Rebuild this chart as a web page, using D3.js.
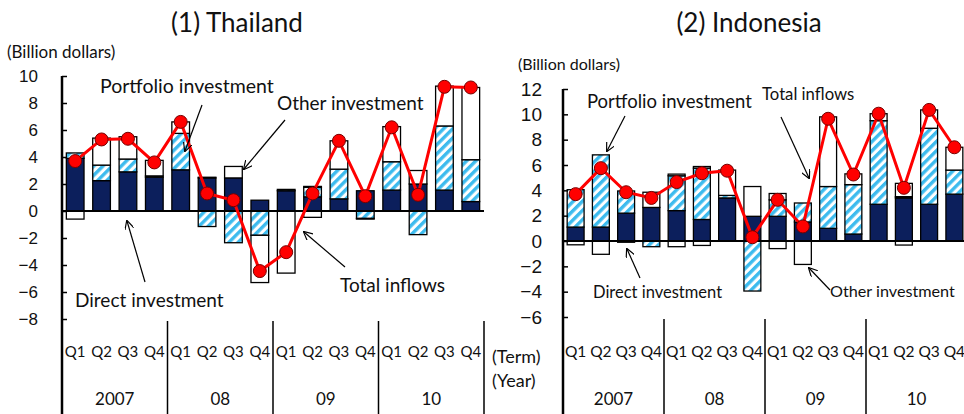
<!DOCTYPE html>
<html>
<head>
<meta charset="utf-8">
<script src="https://cdn.jsdelivr.net/npm/d3@7"></script>
<style>
  body { margin: 0; background: #fff; }
  svg { font-family: Lato, 'Open Sans', sans-serif; }
</style>
</head>
<body>
<svg></svg>
<script>
const w = 964;
const h = 414;
const svg = d3.select('svg').attr('width', w).attr('height', h);

// data (billion dollars, quarterly 2007-2010)
const quarters = ['Q1', 'Q2', 'Q3', 'Q4', 'Q1', 'Q2', 'Q3', 'Q4', 'Q1', 'Q2', 'Q3', 'Q4', 'Q1', 'Q2', 'Q3', 'Q4'];
const years = ['2007', '08', '09', '10'];

const thDirect = [3.9, 2.25, 2.9, 2.5, 3.05, 2.45, 2.45, 0.8, 1.5, 1.05, 0.9, 1.5, 1.55, 2.0, 1.55, 0.7];
const thPortfolio = [0.4, 1.15, 0.95, 0.1, 2.7, -1.15, -2.35, -1.8, 0.1, 0.7, 2.2, -0.55, 2.1, -1.75, 4.75, 3.1];
const thOther = [-0.6, 2.0, 1.65, 1.15, 0.85, 0.05, 0.85, -3.5, -4.6, -0.47, 2.1, -0.05, 2.6, 1.0, 2.95, 5.35];
const thOther2 = [0, 0, 0, 0, 0, 0, 0, 0, 0, 0.07, 0, 0, 0, 0, 0, 0];
const thTotal = [3.7, 5.3, 5.35, 3.6, 6.6, 1.3, 0.8, -4.45, -3.05, 1.3, 5.2, 1.1, 6.2, 1.2, 9.2, 9.15];

const idDirect = [1.1, 1.1, 2.2, 2.65, 2.4, 1.7, 3.4, 1.95, 1.95, 1.5, 1.0, 0.55, 2.9, 3.4, 2.9, 3.7];
const idPortfolio = [2.95, 5.7, 1.75, -0.45, 2.75, 4.05, 0.2, -3.95, 1.3, 1.5, 3.3, 3.9, 6.6, 0.1, 6.0, 1.9];
const idOther = [-0.3, -1.05, -0.1, 1.2, -0.45, -0.35, 2.0, 2.35, -0.6, -1.85, 5.5, 0.85, 0.55, 1.05, 1.45, 1.8];
const idOther2 = [0, 0, 0, 0, 0.13, 0.13, 0, 0, 0.5, 0, 0, 0, 0, -0.32, 0, 0];
const idTotal = [3.7, 5.75, 3.85, 3.4, 4.65, 5.35, 5.55, 0.3, 3.25, 1.15, 9.65, 5.25, 10.05, 4.2, 10.35, 7.4];

const navy = '#0c1f5c';
const blue = '#3dbbee';
const keys = ['direct', 'portfolio', 'other', 'other2'];
const fills = { direct: navy, portfolio: 'url(#hatch)', other: '#fff', other2: '#fff' };

const defs = svg.append('defs');
const pat = defs
  .append('pattern')
  .attr('id', 'hatch')
  .attr('patternUnits', 'userSpaceOnUse')
  .attr('width', 6.5)
  .attr('height', 6.5)
  .attr('patternTransform', 'rotate(45)');
pat.append('rect').attr('width', 6.5).attr('height', 6.5).attr('fill', '#fff');
pat.append('rect').attr('width', 3.4).attr('height', 6.5).attr('fill', blue);

defs
  .append('marker')
  .attr('id', 'arrow')
  .attr('viewBox', '0 0 10 10')
  .attr('refX', 9)
  .attr('refY', 5)
  .attr('markerWidth', 9)
  .attr('markerHeight', 9)
  .attr('markerUnits', 'userSpaceOnUse')
  .attr('orient', 'auto')
  .append('path')
  .attr('d', 'M0,0 L10,5 L0,10')
  .attr('fill', 'none')
  .attr('stroke', '#000')
  .attr('stroke-width', 1.3);

function drawPanel(p) {
  const g = svg.append('g');
  const x = d3
    .scaleBand()
    .domain(d3.range(quarters.length))
    .range([p.left, p.right])
    .paddingInner(0.33)
    .paddingOuter(0.165);
  const y = d3.scaleLinear().domain(p.domain).range([p.bottom, p.top]);

  const rows = quarters.map((q, i) => ({
    direct: p.direct[i],
    portfolio: p.portfolio[i],
    other: p.other[i],
    other2: p.other2[i],
  }));
  const series = d3.stack().keys(keys).offset(d3.stackOffsetDiverging)(rows);

  series.forEach((s) => {
    g.append('g')
      .selectAll('rect')
      .data(s.map((d, i) => ({ d, i })).filter((e) => e.d[1] !== e.d[0]))
      .enter()
      .append('rect')
      .attr('x', (e) => x(e.i))
      .attr('y', (e) => y(Math.max(e.d[0], e.d[1])))
      .attr('width', x.bandwidth())
      .attr('height', (e) => Math.abs(y(e.d[0]) - y(e.d[1])))
      .attr('fill', fills[s.key])
      .attr('stroke', '#000')
      .attr('stroke-width', 1.3);
  });

  // zero line
  g.append('line')
    .attr('x1', p.left)
    .attr('x2', p.right)
    .attr('y1', y(0))
    .attr('y2', y(0))
    .attr('stroke', '#000')
    .attr('stroke-width', 2);

  // total inflows
  const cx = (i) => x(i) + x.bandwidth() / 2;
  g.append('path')
    .datum(p.total)
    .attr('fill', 'none')
    .attr('stroke', '#f00')
    .attr('stroke-width', 3)
    .attr('d', d3.line().x((d, i) => cx(i)).y((d) => y(d)));
  g.append('g')
    .selectAll('circle')
    .data(p.total)
    .enter()
    .append('circle')
    .attr('cx', (d, i) => cx(i))
    .attr('cy', (d) => y(d))
    .attr('r', 6.5)
    .attr('fill', '#f00')
    .attr('stroke', '#700')
    .attr('stroke-width', 1);

  // y axis
  const yAxis = d3
    .axisLeft(y)
    .tickValues(d3.range(p.domain[0], p.domain[1] + 1, 2))
    .tickSizeInner(-5)
    .tickSizeOuter(0)
    .tickPadding(p.tickPad);
  const ya = g.append('g').attr('transform', `translate(${p.left}, 0)`).call(yAxis);
  ya.select('.domain').remove();
  ya.selectAll('line').attr('stroke-width', 1.5);
  ya.selectAll('text').attr('font-size', p.tickFont).attr('fill', '#111').attr('font-family', null);
  g.append('line')
    .attr('x1', p.left)
    .attr('x2', p.left)
    .attr('y1', p.top)
    .attr('y2', h)
    .attr('stroke', '#000')
    .attr('stroke-width', 2.5);

  // category axis: quarters, then years, with year dividers
  const yearScale = d3.scaleBand().domain(years).range([p.left, p.right]);
  years.slice(1).forEach((yr) => {
    g.append('line')
      .attr('x1', yearScale(yr))
      .attr('x2', yearScale(yr))
      .attr('y1', p.bottom + 2)
      .attr('y2', h)
      .attr('stroke', '#000')
      .attr('stroke-width', 1.5);
  });
  g.append('line')
    .attr('x1', p.right)
    .attr('x2', p.right)
    .attr('y1', p.bottom + 2)
    .attr('y2', h)
    .attr('stroke', '#000')
    .attr('stroke-width', 1.5);

  g.append('g')
    .selectAll('text')
    .data(quarters)
    .enter()
    .append('text')
    .attr('x', (d, i) => cx(i))
    .attr('y', p.qY)
    .attr('text-anchor', 'middle')
    .attr('font-size', p.qFont)
    .attr('fill', '#111')
    .text((d) => d);

  g.append('g')
    .selectAll('text')
    .data(years)
    .enter()
    .append('text')
    .attr('x', (d) => yearScale(d) + yearScale.bandwidth() / 2)
    .attr('y', 405)
    .attr('text-anchor', 'middle')
    .attr('font-size', p.yearFont)
    .attr('fill', '#111')
    .text((d) => d);

  // titles
  g.append('text')
    .attr('x', p.titleX)
    .attr('y', 32)
    .attr('text-anchor', 'middle')
    .attr('font-size', 26)
    .attr('fill', '#111')
    .text(p.title);
  g.append('text')
    .attr('x', p.unitX)
    .attr('y', p.unitY)
    .attr('font-size', p.unitFont)
    .attr('fill', '#111')
    .text('(Billion dollars)');

  // callouts
  p.notes.forEach((n) => {
    g.append('text')
      .attr('x', n.x)
      .attr('y', n.y)
      .attr('font-size', n.size)
      .attr('fill', '#111')
      .text(n.text);
    g.append('line')
      .attr('x1', n.a[0])
      .attr('y1', n.a[1])
      .attr('x2', n.a[2])
      .attr('y2', n.a[3])
      .attr('stroke', '#000')
      .attr('stroke-width', 1.2)
      .attr('marker-end', 'url(#arrow)');
  });
}

drawPanel({
  title: '(1) Thailand',
  titleX: 237,
  unitX: 7,
  unitY: 58,
  unitFont: 17,
  left: 62,
  right: 484,
  top: 76,
  bottom: 319,
  domain: [-8, 10],
  tickPad: 24,
  tickFont: 17,
  qFont: 15,
  qY: 357,
  yearFont: 17,
  direct: thDirect,
  portfolio: thPortfolio,
  other: thOther,
  other2: thOther2,
  total: thTotal,
  notes: [
    { text: 'Portfolio investment', x: 100, y: 93, size: 19.5, a: [202, 105, 185, 151] },
    { text: 'Other investment', x: 277, y: 110, size: 19, a: [285, 120, 244, 169] },
    { text: 'Direct investment', x: 75, y: 307, size: 19, a: [145, 282, 127, 221] },
    { text: 'Total inflows', x: 340, y: 292, size: 19, a: [345, 267, 304, 232] },
  ],
});

drawPanel({
  title: '(2) Indonesia',
  titleX: 749,
  unitX: 518,
  unitY: 70,
  unitFont: 16,
  left: 563,
  right: 967,
  top: 89,
  bottom: 317,
  domain: [-6, 12],
  tickPad: 21,
  tickFont: 19,
  qFont: 15.5,
  qY: 357,
  yearFont: 17,
  direct: idDirect,
  portfolio: idPortfolio,
  other: idOther,
  other2: idOther2,
  total: idTotal,
  notes: [
    { text: 'Portfolio investment', x: 587, y: 108, size: 18.5, a: [625, 116, 607, 151] },
    { text: 'Total inflows', x: 762, y: 100, size: 16.7, a: [781, 117, 809, 178] },
    { text: 'Direct investment', x: 593, y: 298, size: 16.5, a: [640, 278, 627, 249] },
    { text: 'Other investment', x: 830, y: 297, size: 16.2, a: [830, 290, 809, 268] },
  ],
});

svg.append('text').attr('x', 492).attr('y', 363).attr('font-size', 18).attr('fill', '#111').text('(Term)');
svg.append('text').attr('x', 492).attr('y', 387).attr('font-size', 18).attr('fill', '#111').text('(Year)');
</script>
</body>
</html>
